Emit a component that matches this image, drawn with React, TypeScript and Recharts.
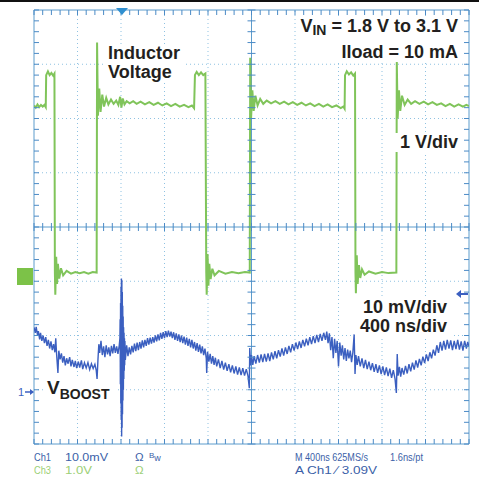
import React from 'react';
import { LineChart, Line, XAxis, YAxis, ReferenceLine } from 'recharts';

// time in divisions (0..10, 400 ns/div), amplitude in divisions (-4..4)
const inductorTrace: [number, number][] = [
    [0, 2.24], [0.04, 2.20], [0.08, 2.26], [0.12, 2.21], [0.16, 2.25], [0.2, 2.22], [0.24, 2.25], [0.27, 2.21],
    [0.28, 2.80], [0.32, 2.87], [0.36, 2.80], [0.40, 2.84], [0.44, 2.79], [0.47, 2.83],
    [0.48, -0.84], [0.49, -1.25], [0.51, -0.55], [0.53, -1.05], [0.55, -0.68], [0.58, -0.95], [0.62, -0.76],
    [0.67, -0.89], [0.75, -0.81], [0.85, -0.86], [0.95, -0.83], [1.05, -0.85], [1.15, -0.83], [1.25, -0.86],
    [1.35, -0.83], [1.44, -0.84],
    [1.45, 3.40], [1.47, 2.05], [1.50, 2.55], [1.53, 2.12], [1.57, 2.44], [1.61, 2.22], [1.66, 2.38],
    [1.71, 2.26], [1.77, 2.35], [1.83, 2.27], [1.89, 2.33], [1.94, 2.25], [1.98, 2.40], [2.01, 2.20],
    [2.04, 2.37], [2.08, 2.26], [2.13, 2.32], [2.2, 2.28], [2.28, 2.32], [2.36, 2.27], [2.45, 2.31],
    [2.55, 2.26], [2.65, 2.30], [2.75, 2.25], [2.85, 2.29], [2.95, 2.24], [3.05, 2.28], [3.15, 2.23],
    [3.25, 2.27], [3.35, 2.22], [3.45, 2.25], [3.55, 2.21], [3.63, 2.24], [3.68, 2.19],
    [3.70, 2.80], [3.74, 2.86], [3.79, 2.80], [3.84, 2.85], [3.89, 2.80], [3.94, 2.83],
    [3.96, -0.84], [3.97, -1.25], [3.99, -0.50], [4.01, -1.08], [4.03, -0.68], [4.06, -0.96], [4.10, -0.77],
    [4.15, -0.89], [4.25, -0.81], [4.40, -0.86], [4.55, -0.83], [4.70, -0.85], [4.85, -0.83], [4.96, -0.84],
    [4.97, 3.12], [4.99, 2.00], [5.02, 2.52], [5.05, 2.14], [5.09, 2.42], [5.14, 2.24], [5.20, 2.36],
    [5.27, 2.27], [5.35, 2.33], [5.45, 2.28], [5.55, 2.32], [5.65, 2.27], [5.75, 2.31], [5.85, 2.26],
    [5.95, 2.30], [6.05, 2.25], [6.15, 2.29], [6.25, 2.24], [6.35, 2.28], [6.45, 2.23], [6.55, 2.27],
    [6.65, 2.22], [6.75, 2.26], [6.85, 2.21], [6.95, 2.24], [7.05, 2.19], [7.11, 2.22], [7.14, 2.18],
    [7.15, 2.80], [7.19, 2.87], [7.24, 2.81], [7.29, 2.85], [7.34, 2.79], [7.38, 2.83],
    [7.39, -0.84], [7.40, -1.22], [7.42, -0.52], [7.44, -1.05], [7.47, -0.70], [7.50, -0.94], [7.54, -0.78],
    [7.60, -0.88], [7.70, -0.82], [7.85, -0.86], [8.00, -0.83], [8.15, -0.85], [8.33, -0.84],
    [8.34, 3.05], [8.36, 2.00], [8.39, 2.52], [8.42, 2.14], [8.46, 2.42], [8.52, 2.25], [8.59, 2.35],
    [8.67, 2.27], [8.76, 2.32], [8.86, 2.27], [8.96, 2.31], [9.06, 2.26], [9.16, 2.30], [9.26, 2.25],
    [9.36, 2.28], [9.46, 2.23], [9.56, 2.27], [9.66, 2.22], [9.76, 2.26], [9.86, 2.22], [9.94, 2.25], [10, 2.23],
];

const boostTrace: [number, number][] = [
    [0.00, -1.85], [0.03, -1.95], [0.05, -1.84], [0.08, -1.99], [0.10, -1.92], [0.13, -2.07], [0.15, -1.95],
    [0.18, -2.10], [0.21, -2.00], [0.24, -2.14], [0.27, -2.03], [0.30, -2.19], [0.33, -2.08], [0.36, -2.24],
    [0.39, -2.11], [0.42, -2.27], [0.45, -2.16], [0.48, -2.31], [0.50, -2.05], [0.52, -2.35], [0.55, -2.69],
    [0.57, -2.28], [0.60, -2.44], [0.63, -2.33], [0.66, -2.50], [0.69, -2.38], [0.72, -2.55], [0.75, -2.42],
    [0.78, -2.52], [0.82, -2.40], [0.85, -2.57], [0.88, -2.45], [0.92, -2.58], [0.95, -2.47], [0.98, -2.60],
    [1.02, -2.48], [1.05, -2.59], [1.09, -2.46], [1.12, -2.62], [1.16, -2.50], [1.20, -2.60], [1.24, -2.50],
    [1.28, -2.63], [1.32, -2.52], [1.36, -2.61], [1.40, -2.53], [1.43, -2.64], [1.45, -2.80], [1.47, -2.45],
    [1.49, -2.16], [1.51, -2.32], [1.54, -2.10], [1.57, -2.36], [1.60, -2.20], [1.63, -2.40], [1.66, -2.18],
    [1.69, -2.35], [1.72, -2.22], [1.75, -2.38], [1.78, -2.19], [1.81, -2.33], [1.84, -2.16], [1.87, -2.32],
    [1.90, -2.20], [1.93, -2.34], [1.96, -2.18],
    [1.975, -2.05], [1.98, -1.70], [1.985, -2.90], [1.99, -1.40], [1.995, -3.25], [2.00, -1.10], [2.005, -3.55],
    [2.01, -0.95], [2.015, -3.86], [2.02, -0.98], [2.025, -3.70], [2.03, -1.20], [2.035, -3.45], [2.04, -1.45],
    [2.045, -3.20], [2.05, -1.65], [2.055, -3.00], [2.06, -1.85], [2.065, -2.80], [2.07, -1.95], [2.075, -2.65],
    [2.08, -2.05], [2.085, -2.55], [2.09, -2.10], [2.10, -2.45],
    [2.13, -2.18], [2.16, -2.38], [2.19, -2.22], [2.22, -2.35], [2.25, -2.19], [2.28, -2.31], [2.31, -2.15],
    [2.34, -2.29], [2.37, -2.13], [2.40, -2.27], [2.43, -2.12], [2.46, -2.24], [2.49, -2.09], [2.52, -2.22],
    [2.55, -2.08], [2.58, -2.19], [2.61, -2.05], [2.64, -2.17], [2.67, -2.04], [2.70, -2.15], [2.73, -2.03],
    [2.76, -2.13], [2.79, -2.00], [2.82, -2.11], [2.85, -1.98], [2.88, -2.09], [2.91, -1.95], [2.94, -2.06],
    [2.97, -1.94], [3.00, -2.05], [3.03, -1.92], [3.06, -2.03], [3.09, -1.91], [3.12, -2.02], [3.15, -1.93],
    [3.18, -2.05], [3.21, -1.94], [3.24, -2.08], [3.27, -1.96], [3.30, -2.10], [3.33, -1.98], [3.36, -2.12],
    [3.39, -2.00], [3.42, -2.14], [3.45, -2.02], [3.48, -2.17], [3.51, -2.04], [3.54, -2.19], [3.57, -2.06],
    [3.60, -2.22], [3.63, -2.08], [3.66, -2.24], [3.69, -2.12], [3.72, -2.28], [3.75, -2.14], [3.78, -2.30],
    [3.81, -2.17], [3.84, -2.33], [3.87, -2.20], [3.90, -2.36], [3.93, -2.24], [3.96, -2.42], [3.97, -2.69],
    [3.99, -2.30], [4.02, -2.48], [4.05, -2.34], [4.08, -2.52], [4.11, -2.38], [4.14, -2.54], [4.17, -2.41],
    [4.20, -2.57], [4.24, -2.44], [4.28, -2.60], [4.32, -2.47], [4.36, -2.63], [4.40, -2.50], [4.44, -2.65],
    [4.48, -2.53], [4.52, -2.68], [4.56, -2.55], [4.60, -2.70], [4.64, -2.57], [4.68, -2.72], [4.72, -2.59],
    [4.76, -2.73], [4.80, -2.60], [4.84, -2.74], [4.88, -2.62], [4.92, -2.75], [4.95, -2.97], [4.96, -2.23],
    [4.98, -2.55], [5.00, -2.36], [5.03, -2.54], [5.06, -2.38], [5.10, -2.52], [5.14, -2.36], [5.18, -2.50],
    [5.22, -2.35], [5.26, -2.49], [5.30, -2.34], [5.34, -2.48], [5.38, -2.33], [5.42, -2.47], [5.46, -2.31],
    [5.50, -2.44], [5.54, -2.29], [5.58, -2.42], [5.62, -2.27], [5.66, -2.39], [5.70, -2.24], [5.74, -2.37],
    [5.78, -2.22], [5.82, -2.34], [5.86, -2.19], [5.90, -2.31], [5.94, -2.16], [5.98, -2.28], [6.02, -2.13],
    [6.06, -2.25], [6.10, -2.11], [6.14, -2.23], [6.18, -2.08], [6.22, -2.20], [6.26, -2.06], [6.30, -2.18],
    [6.34, -2.03], [6.38, -2.16], [6.42, -2.01], [6.46, -2.14], [6.50, -1.99], [6.54, -2.12], [6.58, -1.97],
    [6.62, -2.10], [6.66, -1.95], [6.70, -2.08], [6.73, -1.93], [6.76, -2.14], [6.79, -1.96], [6.82, -2.27],
    [6.85, -2.03], [6.88, -2.42], [6.91, -2.06], [6.94, -2.32], [6.97, -2.10], [7.00, -2.57], [7.03, -2.13],
    [7.06, -2.37], [7.09, -2.18], [7.12, -2.44], [7.15, -2.23], [7.18, -2.47], [7.21, -2.26], [7.24, -2.42],
    [7.27, -2.28], [7.30, -2.49], [7.33, -2.31], [7.36, -1.98], [7.38, -2.71], [7.40, -2.36], [7.43, -2.54],
    [7.46, -2.38], [7.50, -2.57], [7.54, -2.42], [7.58, -2.60], [7.62, -2.45], [7.66, -2.62], [7.70, -2.48],
    [7.74, -2.64], [7.78, -2.51], [7.82, -2.67], [7.86, -2.53], [7.90, -2.69], [7.94, -2.55], [7.98, -2.71],
    [8.02, -2.57], [8.06, -2.73], [8.10, -2.59], [8.14, -2.75], [8.18, -2.61], [8.22, -2.78], [8.26, -2.64],
    [8.30, -2.80], [8.33, -3.06], [8.35, -2.34], [8.37, -2.74], [8.40, -2.58], [8.43, -2.76], [8.46, -2.60],
    [8.50, -2.72], [8.54, -2.56], [8.58, -2.70], [8.62, -2.53], [8.66, -2.66], [8.70, -2.50], [8.74, -2.63],
    [8.78, -2.46], [8.82, -2.59], [8.86, -2.43], [8.90, -2.55], [8.94, -2.39], [8.98, -2.51], [9.02, -2.35],
    [9.06, -2.47], [9.10, -2.31], [9.14, -2.42], [9.18, -2.26], [9.22, -2.37], [9.26, -2.18], [9.30, -2.32],
    [9.34, -2.12], [9.38, -2.28], [9.42, -2.10], [9.46, -2.26], [9.50, -2.08], [9.54, -2.24], [9.58, -2.09],
    [9.62, -2.27], [9.66, -2.10], [9.70, -2.25], [9.74, -2.08], [9.78, -2.26], [9.82, -2.11], [9.86, -2.28],
    [9.90, -2.10], [9.94, -2.24], [9.97, -2.12], [10.00, -2.20],
];

const gridX = [1, 2, 3, 4, 6, 7, 8, 9];
const gridY = [-3, -2, -1, 1, 2, 3];
const minorX = Array.from({ length: 51 }, (_, i) => +(i * 0.2).toFixed(1));
const minorY = Array.from({ length: 41 }, (_, i) => +(-4 + i * 0.2).toFixed(1));

const GRID = '#8fc2e2';
const AXIS = '#5d9ccc';
const TICK = '#4b8ac6';
const GREEN = '#80c45a';
const BLUE = '#3b5fc0';
const LABEL = "'Liberation Sans', Arial, sans-serif";
const SCOPE = "'Liberation Sans', Arial, sans-serif";

// plot box (same as the chart margins below)
const PLOT = { left: 34, top: 10, width: 435, height: 434 };
const sx = (t: number) => PLOT.left + (t / 10) * PLOT.width;
const sy = (v: number) => PLOT.top + ((4 - v) / 8) * PLOT.height;

const toPoints = (arr: [number, number][]) => arr.map(([t, v]) => ({ t, v }));

export default function App() {
    return (
        <div style={{ position: 'absolute', left: 0, top: 0, width: 479, height: 479, background: '#fff' }}>
            <div style={{ position: 'absolute', left: 0, top: 0, width: 479, height: 2, background: '#111' }} />
            <LineChart width={479} height={479}
                margin={{ top: PLOT.top, right: 479 - PLOT.left - PLOT.width, bottom: 479 - PLOT.top - PLOT.height, left: PLOT.left }}>
                <XAxis xAxisId="b" dataKey="t" type="number" domain={[0, 10]} hide allowDataOverflow />
                <YAxis yAxisId="l" dataKey="v" type="number" domain={[-4, 4]} hide allowDataOverflow />
                {gridX.map((x) => (
                    <ReferenceLine key={'gx' + x} xAxisId="b" yAxisId="l" x={x} stroke={GRID} strokeDasharray="1 3" />
                ))}
                {gridY.map((y) => (
                    <ReferenceLine key={'gy' + y} xAxisId="b" yAxisId="l" y={y} stroke={GRID} strokeDasharray="1 3" />
                ))}
                {/* frame + centre axes */}
                <ReferenceLine xAxisId="b" yAxisId="l" x={0} stroke={AXIS} />
                <ReferenceLine xAxisId="b" yAxisId="l" x={10} stroke={AXIS} />
                <ReferenceLine xAxisId="b" yAxisId="l" y={-4} stroke={AXIS} />
                <ReferenceLine xAxisId="b" yAxisId="l" y={4} stroke={AXIS} />
                <ReferenceLine xAxisId="b" yAxisId="l" x={5} stroke={AXIS} />
                <ReferenceLine xAxisId="b" yAxisId="l" y={0} stroke={AXIS} />
                <Line xAxisId="b" yAxisId="l" data={toPoints(inductorTrace)} dataKey="v" type="linear"
                    stroke={GREEN} strokeWidth={2} dot={false} activeDot={false} isAnimationActive={false} />
                <Line xAxisId="b" yAxisId="l" data={toPoints(boostTrace)} dataKey="v" type="linear"
                    stroke={BLUE} strokeWidth={1.4} dot={false} activeDot={false} isAnimationActive={false} />
            </LineChart>
            <svg width={479} height={479} style={{ position: 'absolute', left: 0, top: 0, pointerEvents: 'none' }}>
                {/* graticule minor ticks: frame and centre cross */}
                <g stroke={TICK} strokeWidth={1}>
                    {minorX.map((t) => (
                        <React.Fragment key={'mx' + t}>
                            <line x1={sx(t)} x2={sx(t)} y1={sy(0) - 4} y2={sy(0) + 4} />
                            <line x1={sx(t)} x2={sx(t)} y1={sy(-4) - 5} y2={sy(-4)} />
                            <line x1={sx(t)} x2={sx(t)} y1={sy(4)} y2={sy(4) + 5} />
                        </React.Fragment>
                    ))}
                    {minorY.map((v) => (
                        <React.Fragment key={'my' + v}>
                            <line x1={sx(5) - 4} x2={sx(5) + 4} y1={sy(v)} y2={sy(v)} />
                            <line x1={sx(0)} x2={sx(0) + 5} y1={sy(v)} y2={sy(v)} />
                            <line x1={sx(10) - 5} x2={sx(10)} y1={sy(v)} y2={sy(v)} />
                        </React.Fragment>
                    ))}
                </g>
                {/* trigger position + level markers */}
                <polygon points="116,8 128,8 122,15" fill="#2f8fd0" />
                <line x1={460} y1={294} x2={468} y2={294} stroke="#3b5fc0" strokeWidth={2} />
                <polygon points="456,294 461,290 461,298" fill="#3b5fc0" />
                {/* channel ground markers */}
                <rect x={17} y={268} width={16} height={17} fill="#7cc248" />
                <text x={18} y={396} fontFamily={SCOPE} fontSize={11} fill="#3b5fc0">1</text>
                <line x1={25} y1={392} x2={31} y2={392} stroke="#3b5fc0" strokeWidth={1.5} />
                <polygon points="34,392 30,389 30,395" fill="#3b5fc0" />

                <g fontFamily={LABEL} fontWeight="bold" fontSize={18} fill="#231f20">
                    <rect x={104} y={44} width={80} height={38} fill="#fff" />
                    <text x={108} y={59}>
                        <tspan x={108}>Inductor</tspan>
                        <tspan x={108} dy={19}>Voltage</tspan>
                    </text>

                    <rect x={296} y={16} width={166} height={46} fill="#fff" />
                    <text x={458} y={32} textAnchor="end">
                        V<tspan fontSize={14} dy={3}>IN</tspan><tspan dy={-3}> = 1.8 V to 3.1 V</tspan>
                    </text>
                    <text x={458} y={58} textAnchor="end">Iload = 10 mA</text>

                    <rect x={395} y={133} width={66} height={19} fill="#fff" />
                    <text x={458} y={148} textAnchor="end">1 V/div</text>

                    <rect x={356} y={297} width={95} height={39} fill="#fff" />
                    <text x={447} y={313} textAnchor="end">
                        <tspan x={447}>10 mV/div</tspan>
                        <tspan x={447} dy={19}>400 ns/div</tspan>
                    </text>

                    <rect x={44} y={379} width={74} height={22} fill="#fff" />
                    <text x={47} y={394} fontSize={19}>V<tspan fontSize={14} dy={5}>BOOST</tspan></text>
                </g>

                <g fontFamily={SCOPE} fontSize={11.5}>
                    <text x={34} y={461} fill="#3b5fa8">
                        <tspan x={34} textLength={17} lengthAdjust="spacingAndGlyphs">Ch1</tspan>
                        <tspan x={34} dy={13} fill="#9ccf76" textLength={17} lengthAdjust="spacingAndGlyphs">Ch3</tspan>
                    </text>
                    <text x={65} y={461} fill="#3b5fa8">
                        <tspan x={65} textLength={43} lengthAdjust="spacingAndGlyphs">10.0mV</tspan>
                        <tspan x={65} dy={13} fill="#9ccf76" textLength={27} lengthAdjust="spacingAndGlyphs">1.0V</tspan>
                    </text>
                    <text x={135} y={461} fill="#3b5fa8">
                        <tspan x={135}>Ω</tspan>
                        <tspan x={135} dy={13} fill="#9ccf76">Ω</tspan>
                    </text>
                    <text x={149} y={458} fill="#3b5fa8" fontSize={8}>B<tspan fontSize={9} dy={3}>w</tspan></text>
                    <text x={295} y={461} fill="#3b5fa8">
                        <tspan x={295} textLength={73} lengthAdjust="spacingAndGlyphs">M 400ns 625MS/s</tspan>
                        <tspan x={295} dy={13} textLength={82} lengthAdjust="spacingAndGlyphs">A  Ch1  ⁄  3.09V</tspan>
                    </text>
                    <text x={390} y={461} fill="#3b5fa8" textLength={33} lengthAdjust="spacingAndGlyphs">1.6ns/pt</text>
                </g>
            </svg>
        </div>
    );
}
